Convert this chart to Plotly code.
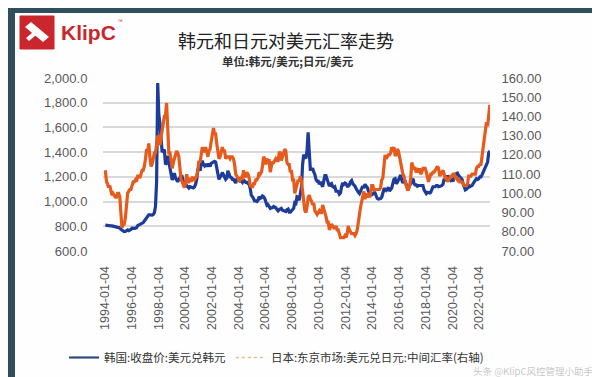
import pandas as pd
import plotly.graph_objects as go

# ---------------- data (monthly readings, 1994-01 .. 2022-10) ----------------
krw = [
    810, 810, 808, 807, 806, 804, 803, 800, 798, 796, 795, 790,            # 1994
    788, 786, 775, 770, 760, 757, 758, 765, 770, 765, 767, 775,            # 1995
    785, 782, 783, 785, 788, 805, 810, 815, 820, 826, 830, 843,            # 1996
    855, 865, 885, 892, 892, 888, 890, 895, 910, 960, 1160, 1960,          # 1997
    1700, 1630, 1500, 1400, 1410, 1420, 1300, 1310, 1370, 1320, 1250, 1210,  # 1998
    1175, 1195, 1230, 1190, 1175, 1160, 1180, 1195, 1195, 1200, 1165, 1140,  # 1999
    1125, 1130, 1115, 1110, 1120, 1117, 1115, 1110, 1120, 1140, 1180, 1260,  # 2000
    1270, 1250, 1300, 1330, 1300, 1290, 1305, 1285, 1300, 1300, 1285, 1310,  # 2001
    1315, 1320, 1325, 1320, 1270, 1225, 1180, 1200, 1210, 1235, 1215, 1200,  # 2002
    1180, 1190, 1250, 1225, 1200, 1195, 1180, 1180, 1165, 1150, 1180, 1190,  # 2003
    1185, 1165, 1165, 1155, 1175, 1160, 1155, 1155, 1150, 1140, 1105, 1050,  # 2004
    1040, 1020, 1005, 1005, 1000, 1010, 1040, 1025, 1030, 1045, 1040, 1025,  # 2005
    990, 970, 975, 955, 945, 950, 950, 960, 955, 950, 935, 925,            # 2006
    935, 940, 945, 930, 925, 925, 920, 935, 940, 915, 915, 925,            # 2007
    940, 945, 990, 985, 1040, 1035, 1010, 1060, 1120, 1300, 1380, 1360,    # 2008
    1350, 1420, 1560, 1400, 1260, 1260, 1270, 1240, 1220, 1180, 1165, 1165,  # 2009
    1140, 1160, 1140, 1120, 1165, 1210, 1210, 1180, 1165, 1125, 1140, 1145,  # 2010
    1120, 1115, 1120, 1085, 1085, 1080, 1060, 1070, 1120, 1150, 1140, 1150,  # 2011
    1145, 1125, 1125, 1135, 1160, 1170, 1145, 1135, 1125, 1105, 1085, 1075,  # 2012
    1065, 1085, 1100, 1125, 1110, 1140, 1125, 1115, 1085, 1065, 1060, 1055,  # 2013
    1065, 1070, 1070, 1045, 1025, 1020, 1020, 1025, 1035, 1060, 1100, 1100,  # 2014
    1090, 1100, 1115, 1085, 1095, 1110, 1145, 1180, 1185, 1145, 1155, 1175,  # 2015
    1200, 1215, 1175, 1150, 1165, 1165, 1140, 1110, 1110, 1130, 1160, 1180,  # 2016
    1185, 1145, 1135, 1135, 1125, 1130, 1130, 1130, 1135, 1130, 1095, 1085,  # 2017
    1065, 1075, 1070, 1070, 1075, 1095, 1120, 1120, 1120, 1130, 1130, 1120,  # 2018
    1120, 1125, 1130, 1140, 1185, 1175, 1175, 1210, 1195, 1185, 1170, 1175,  # 2019
    1165, 1195, 1220, 1225, 1230, 1210, 1200, 1185, 1180, 1145, 1110, 1095,  # 2020
    1100, 1110, 1130, 1120, 1125, 1130, 1145, 1160, 1170, 1185, 1180, 1185,  # 2021
    1200, 1200, 1215, 1235, 1265, 1280, 1300, 1320, 1395, 1410,            # 2022
]

jpy = [
    112, 106, 105, 103, 104, 102, 99, 100, 99, 98, 98, 100,       # 1994
    100, 98, 90, 82, 84, 84, 87, 94, 100, 101, 102, 102,          # 1995
    105, 106, 106, 107, 106, 109, 109, 108, 110, 112, 112, 114,   # 1996
    118, 123, 122, 126, 119, 114, 115, 118, 121, 121, 125, 130,   # 1997
    129, 125, 129, 132, 135, 140, 140, 147, 134, 121, 121, 117,   # 1998
    113, 116, 119, 120, 122, 121, 119, 113, 107, 106, 104, 103,   # 1999
    105, 110, 106, 106, 108, 106, 108, 108, 107, 108, 109, 112,   # 2000
    117, 116, 121, 124, 122, 122, 124, 121, 119, 122, 123, 127,   # 2001
    132, 134, 131, 131, 126, 123, 118, 119, 121, 124, 122, 122,   # 2002
    118, 119, 119, 119, 118, 119, 119, 118, 115, 110, 109, 108,   # 2003
    106, 107, 108, 107, 112, 109, 109, 111, 110, 108, 104, 104,   # 2004
    103, 105, 105, 107, 107, 108, 111, 110, 111, 114, 119, 118,   # 2005
    115, 118, 117, 117, 111, 114, 116, 116, 117, 118, 117, 117,   # 2006
    121, 121, 117, 119, 121, 123, 122, 116, 115, 115, 111, 112,   # 2007
    107, 107, 100, 102, 104, 107, 106, 109, 106, 100, 97, 91,     # 2008
    90, 93, 98, 99, 97, 96, 94, 95, 91, 90, 89, 90,               # 2009
    91, 90, 90, 94, 92, 91, 88, 85, 85, 81, 83, 84,               # 2010
    83, 82, 82, 83, 81, 81, 79, 77, 77, 77, 77, 78,               # 2011
    77, 79, 83, 81, 80, 79, 79, 79, 78, 79, 81, 84,               # 2012
    89, 93, 95, 98, 101, 97, 100, 98, 99, 98, 100, 104,           # 2013
    104, 102, 102, 102, 102, 102, 102, 103, 107, 108, 116, 120,   # 2014
    118, 119, 120, 120, 121, 124, 123, 124, 120, 120, 123, 122,   # 2015
    118, 115, 113, 110, 109, 106, 104, 102, 102, 104, 108, 116,   # 2016
    114, 113, 113, 111, 112, 111, 113, 110, 111, 113, 113, 113,   # 2017
    111, 108, 106, 108, 110, 110, 111, 111, 112, 113, 114, 113,   # 2018
    109, 110, 111, 112, 110, 108, 108, 106, 107, 108, 109, 109,   # 2019
    110, 110, 108, 108, 107, 108, 106, 106, 106, 105, 104, 104,   # 2020
    104, 105, 109, 109, 109, 110, 110, 110, 110, 113, 114, 114,   # 2021
    115, 115, 119, 126, 129, 134, 137, 135, 143, 146,             # 2022
]

dates = pd.date_range("1994-01-01", periods=len(krw), freq="MS") + pd.Timedelta(days=14)

tick_labels = ["1994-01-04", "1996-01-04", "1998-01-04", "2000-01-04", "2002-01-04",
               "2004-01-04", "2006-01-04", "2008-01-04", "2010-01-04", "2012-01-04",
               "2014-01-04", "2016-01-04", "2018-01-04", "2020-01-04", "2022-01-04"]

name_krw = "韩国:收盘价:美元兑韩元"
name_jpy = "日本:东京市场:美元兑日元:中间汇率(右轴)"

BLUE = "#1d3c9a"
ORANGE = "#e65a1c"
FONT = "Noto Sans CJK SC, Noto Sans, sans-serif"

# ---------------- figure ----------------
fig = go.Figure()
fig.add_trace(go.Scatter(x=dates, y=krw, mode="lines", name=name_krw,
                         line=dict(color=BLUE, width=3.2), showlegend=False))
fig.add_trace(go.Scatter(x=dates, y=jpy, mode="lines", name=name_jpy, yaxis="y2",
                         line=dict(color=ORANGE, width=3.2), showlegend=False))
# legend entries
fig.add_trace(go.Scatter(x=[None], y=[None], mode="lines", name=name_krw,
                         line=dict(color="#2c4a7c", width=2.2)))
fig.add_trace(go.Scatter(x=[None], y=[None], mode="lines", name=name_jpy, yaxis="y2",
                         line=dict(color="#f0b98a", width=1.5, dash="dot")))

L, R, T, B = 95, 482, 70, 243
W, H = R - L, B - T


def px(x):
    return (x - L) / W


def py(y):
    return (B - y) / H


shapes = [
    # white card
    dict(type="rect", xref="paper", yref="paper", x0=px(7), x1=px(593), y0=py(371), y1=py(5),
         fillcolor="#fefefe", line=dict(width=0), layer="below"),
    # right teal edge of frame
    dict(type="rect", xref="paper", yref="paper", x0=px(593), x1=px(600), y0=py(377), y1=py(0),
         fillcolor="#3a7585", line=dict(width=0), layer="below"),
    # logo square
    dict(type="rect", xref="paper", yref="paper", x0=px(12), x1=px(46), y0=py(41), y1=py(8),
         fillcolor="#c9262d", line=dict(color="#c9262d", width=1), layer="below"),
    # logo icon (clip)
    dict(type="path", xref="paper", yref="paper", layer="above",
         path=f"M {px(17)},{py(19)} L {px(23)},{py(14)} L {px(41)},{py(29)} L {px(35)},{py(34)} Z",
         fillcolor="#ffffff", line=dict(width=0)),
    dict(type="path", xref="paper", yref="paper", layer="above",
         path=f"M {px(18)},{py(30)} L {px(30)},{py(20)} L {px(33)},{py(23)} L {px(21)},{py(33)} Z",
         fillcolor="#ffffff", line=dict(width=0)),
]

annotations = [
    dict(text="<b>KlipC</b>", x=px(51), y=py(24), xref="paper", yref="paper", xanchor="left",
         yanchor="middle", showarrow=False,
         font=dict(family="Liberation Sans, Arial, DejaVu Sans", size=21, color="#c9262d")),
    dict(text="™", x=px(108), y=py(13), xref="paper", yref="paper", xanchor="left",
         yanchor="middle", showarrow=False, font=dict(size=6, color="#c9262d")),
    dict(text="韩元和日元对美元汇率走势", x=px(278), y=py(32), xref="paper", yref="paper",
         xanchor="center", yanchor="middle", showarrow=False,
         font=dict(family=FONT, size=18, color="#222222")),
    dict(text="<b>单位:韩元/美元;日元/美元</b>", x=px(280), y=py(53), xref="paper", yref="paper",
         xanchor="center", yanchor="middle", showarrow=False,
         font=dict(family=FONT, size=11.5, color="#333333")),
    dict(text="头条 @KlipC风控管理小助手", x=px(588), y=py(362.5), xref="paper", yref="paper",
         xanchor="right", yanchor="middle", showarrow=False,
         font=dict(family=FONT, size=9.5, color="rgba(150,150,150,0.55)")),
]

fig.update_layout(
    width=600, height=377,
    margin=dict(l=L, r=600 - R, t=T, b=377 - B, pad=0),
    paper_bgcolor="#2f4f5e",
    plot_bgcolor="rgba(0,0,0,0)",
    font=dict(family=FONT, color="#595959"),
    shapes=shapes,
    annotations=annotations,
    showlegend=True,
    legend=dict(orientation="h", x=px(56), y=py(335), xanchor="left", yanchor="top",
                font=dict(family=FONT, size=11.5, color="#333333"),
                bgcolor="rgba(0,0,0,0)", itemwidth=30, tracegroupgap=0),
    xaxis=dict(type="date", range=["1993-11-12", "2022-10-20"],
               tickvals=tick_labels, ticktext=tick_labels, tickangle=-90,
               showgrid=False, zeroline=False, showline=False,
               ticks="outside", ticklen=9, tickcolor="rgba(0,0,0,0)",
               tickfont=dict(family="Liberation Sans, Arial", size=12.5, color="#595959")),
    yaxis=dict(range=[600, 2000], dtick=200, tickformat=",.1f",
               showgrid=True, gridcolor="#d9d9d9", gridwidth=1.5, zeroline=False,
               showline=False, ticks="outside", ticklen=12, tickcolor="rgba(0,0,0,0)",
               tickfont=dict(family="Liberation Sans, Arial", size=13, color="#595959")),
    yaxis2=dict(range=[70, 160], dtick=10, tickformat=".2f", overlaying="y", side="right",
                showgrid=False, zeroline=False, showline=False,
                ticks="outside", ticklen=8, tickcolor="rgba(0,0,0,0)",
                tickfont=dict(family="Liberation Sans, Arial", size=13, color="#595959")),
)

fig.write_html("out.html")
